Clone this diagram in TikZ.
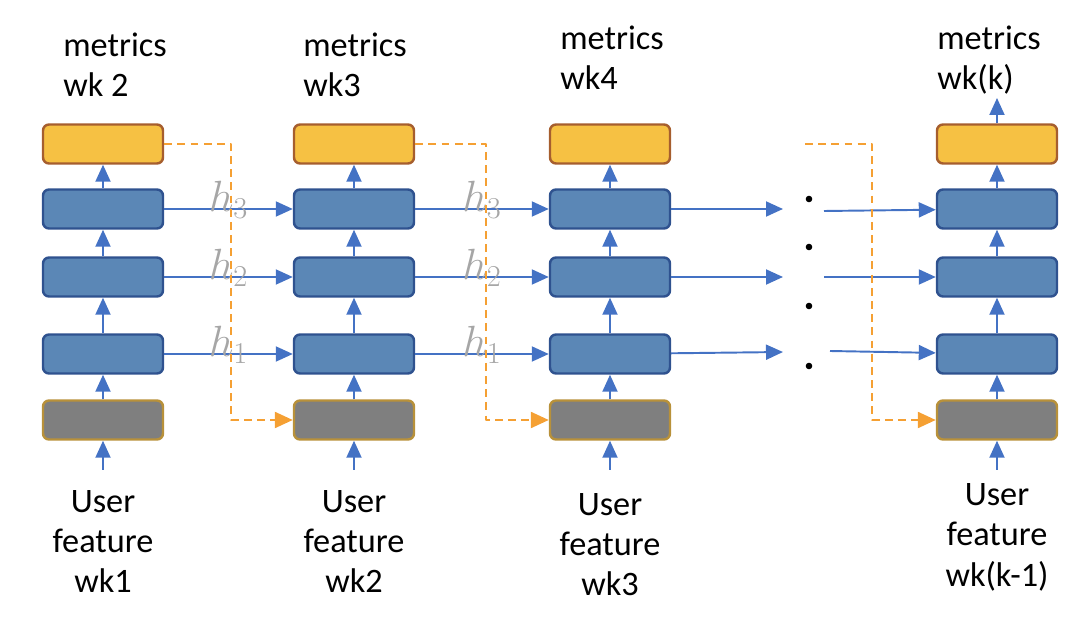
\documentclass[tikz,border=0pt]{standalone}
\usepackage{fontspec}
\setmainfont{Carlito}
\usetikzlibrary{arrows.meta}
\definecolor{boxyellow}{HTML}{F6C143}
\definecolor{boxbrown}{HTML}{A65E2E}
\definecolor{boxblue}{HTML}{5B87B6}
\definecolor{boxedge}{HTML}{2F528F}
\definecolor{boxgray}{HTML}{7F7F7F}
\definecolor{boxgold}{HTML}{B8913A}
\definecolor{arrblue}{HTML}{4472C4}
\definecolor{dashorange}{HTML}{F5A033}
\definecolor{labgray}{HTML}{A6A6A6}
\begin{document}
\begin{tikzpicture}[x=.02cm,y=-.02cm,line join=round,
  box/.style={draw,rounded corners=.12cm,line width=1.4pt,minimum width=2.4cm,minimum height=.78cm,inner sep=0pt},
  ylw/.style={box,fill=boxyellow,draw=boxbrown},
  blu/.style={box,fill=boxblue,draw=boxedge},
  gry/.style={box,fill=boxgray,draw=boxgold},
  barr/.style={arrblue,line width=1.1pt,-{Triangle[length=.34cm,width=.3cm]}},
  darr/.style={dashorange,line width=1.3pt,dash pattern=on 4.5pt off 3pt,-{Triangle[length=.36cm,width=.32cm]}},
  txt/.style={font=\fontsize{19.5}{22.8}\selectfont},
  hlab/.style={font=\fontsize{25}{28}\selectfont,text=labgray,anchor=base,yshift=-.06cm,inner sep=0pt}]
\useasboundingbox (0,0) rectangle (1090,628);
% columns of cells
\foreach \c/\x in {1/103,2/354,3/610,4/997}{
  \node[ylw] (y\c) at (\x,144) {};
  \node[blu] (b\c3) at (\x,209) {};
  \node[blu] (b\c2) at (\x,277) {};
  \node[blu] (b\c1) at (\x,354) {};
  \node[gry] (g\c) at (\x,420) {};
  \coordinate (in\c) at (\x,470);
  \draw[barr] (in\c) -- (g\c);
  \draw[barr] (g\c) -- (b\c1);
  \draw[barr] (b\c1) -- (b\c2);
  \draw[barr] (b\c2) -- (b\c3);
  \draw[barr] (b\c3) -- (y\c);
}
\coordinate (out4) at (997,98);
\draw[barr] (y4) -- (out4);
% labels
\foreach \c/\x/\y/\t in {1/63/97/{wk 2},2/303/97/{wk3},3/560/90/{wk4},4/937/90/{wk(k)}}
  \node[txt,align=left,anchor=base west,inner sep=0pt] (m\c) at (\x,\y) {metrics\\\t};
\foreach \c/\x/\y/\t in {1/103/593/{wk1},2/354/593/{wk2},3/610/596/{wk3},4/997/586/{wk(k-1)}}
  \node[txt,align=center,anchor=base,inner sep=0pt] (u\c) at (\x,\y) {User\\feature\\\t};
% hidden states
\foreach \r/\y in {1/352,2/277,3/209}{
  \draw[barr] (b1\r) -- node[hlab]{$h_\r$} (b2\r);
  \draw[barr] (b2\r) -- node[hlab]{$h_\r$} (b3\r);
  \coordinate (e\r) at (783,\y);
  \draw[barr] (b3\r) -- (e\r);
}
\coordinate (s3) at (824,211);
\coordinate (s2) at (824,277);
\coordinate (s1) at (830,351);
\foreach \r in {1,2,3} \draw[barr] (s\r) -- (b4\r);
\foreach \y in {199,247,306,366} \fill (809,\y) circle (3.3); % dots
% metric feedback
\draw[darr] (y1.east) -- ++(67,0) |- (g2.west);
\draw[darr] (y2.east) -- ++(71,0) |- (g3.west);
\coordinate (dstart) at (805,144);
\draw[darr] (dstart) -- ++(67,0) |- (g4.west);
\end{tikzpicture}
\end{document}
